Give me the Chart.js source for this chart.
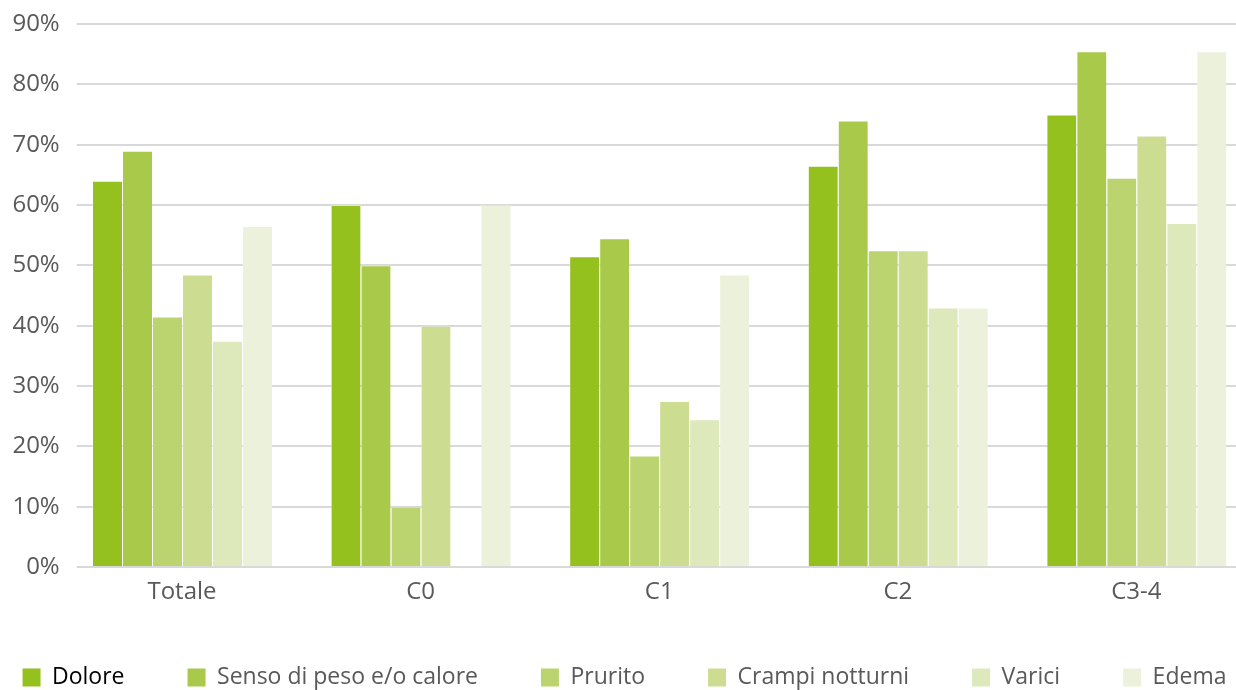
<!DOCTYPE html>
<html lang="it">
<head>
<meta charset="utf-8">
<title>Sintomi per classe CEAP</title>
<script src="https://cdn.jsdelivr.net/npm/chart.js@4/dist/chart.umd.min.js"></script>
<style>
  html, body { margin: 0; padding: 0; width: 1236px; height: 690px; overflow: hidden; background: #ffffff; }
  #wrap { position: relative; width: 1236px; height: 690px; overflow: hidden; }
  #chart { position: absolute; left: -100px; top: 0; }
</style>
</head>
<body>
<div id="wrap"><canvas id="chart" width="1449" height="699"></canvas></div>
<script>
// Categories (CEAP classes) and share of patients reporting each symptom, in %
const categories = ['Totale', 'C0', 'C1', 'C2', 'C3-4'];
const seriesNames = ['Dolore', 'Senso di peso e/o calore', 'Prurito', 'Crampi notturni', 'Varici', 'Edema'];
const dolore  = [64, 60, 51.5, 66.5, 75];
const senso   = [69, 50, 54.5, 74, 85.5];
const prurito = [41.5, 10, 18.5, 52.5, 64.5];
const crampi  = [48.5, 40, 27.5, 52.5, 71.5];
const varici  = [37.5, 0, 24.5, 43, 57];
const edema   = [56.5, 60, 48.5, 43, 85.5];
const yTicks  = [0, 10, 20, 30, 40, 50, 60, 70, 80, 90];

const palette = ['#95c11f', '#a9c94a', '#bbd46f', '#ccdd92', '#dde8bb', '#ecf1db'];
const legendColors = ['#000000', '#595959', '#595959', '#595959', '#595959', '#595959'];
const values = [dolore, senso, prurito, crampi, varici, edema];

const FONT = '"Open Sans", "Noto Sans", sans-serif';
const TEXT = '#595959';

// Leaves a short blank stretch between the axis labels and the start of the grid lines
const gridInset = {
  id: 'gridInset',
  beforeDatasetsDraw(chart) {
    const { ctx, chartArea } = chart;
    ctx.save();
    ctx.fillStyle = '#ffffff';
    ctx.fillRect(chartArea.left - 1, chartArea.top - 3, 15, chartArea.bottom - chartArea.top + 6);
    ctx.restore();
  }
};

new Chart(document.getElementById('chart'), {
  type: 'bar',
  data: {
    labels: categories,
    datasets: values.map((arr, i) => ({
      label: seriesNames[i],
      data: arr,
      backgroundColor: palette[i],
      borderColor: 'rgba(255,255,255,0.3)',
      borderWidth: { left: 1, top: 1, right: 0, bottom: 0 },
      borderSkipped: false,
      categoryPercentage: 0.7544,
      barPercentage: 1.0
    }))
  },
  options: {
    responsive: false,
    animation: false,
    devicePixelRatio: 1,
    layout: { padding: { top: 24, left: 0, right: 0, bottom: 0 } },
    plugins: {
      tooltip: { enabled: false },
      legend: {
        position: 'bottom',
        align: 'center',
        labels: {
          boxWidth: 18,
          boxHeight: 18,
          padding: 63,
          font: { family: FONT, size: 23 },
          color: TEXT,
          generateLabels(chart) {
            return chart.data.datasets.map((ds, i) => ({
              text: ds.label,
              fillStyle: ds.backgroundColor,
              strokeStyle: ds.backgroundColor,
              lineWidth: 0,
              fontColor: legendColors[i],
              hidden: false,
              datasetIndex: i
            }));
          }
        }
      }
    },
    scales: {
      x: {
        type: 'category',
        offset: true,
        grid: { display: false, drawTicks: false },
        border: { display: false },
        ticks: {
          color: TEXT,
          font: { family: FONT, size: 24 },
          padding: 11,
          maxRotation: 0
        },
        afterFit(scale) { scale.height = 36; }
      },
      y: {
        type: 'linear',
        position: 'left',
        min: 0,
        max: 90,
        afterBuildTicks(scale) { scale.ticks = yTicks.map(v => ({ value: v })); },
        grid: { color: '#d9d9d9', lineWidth: 2, drawTicks: false },
        border: { display: false },
        ticks: {
          color: TEXT,
          font: { family: FONT, size: 24 },
          padding: 3,
          callback: v => v + '%'
        },
        afterFit(scale) { scale.width = 162.7; }
      },
      yRight: {
        type: 'linear',
        position: 'right',
        display: true,
        grid: { display: false, drawTicks: false },
        border: { display: false },
        ticks: { display: false },
        afterFit(scale) { scale.width = 93.3; }
      }
    }
  },
  plugins: [gridInset]
});
</script>
</body>
</html>
